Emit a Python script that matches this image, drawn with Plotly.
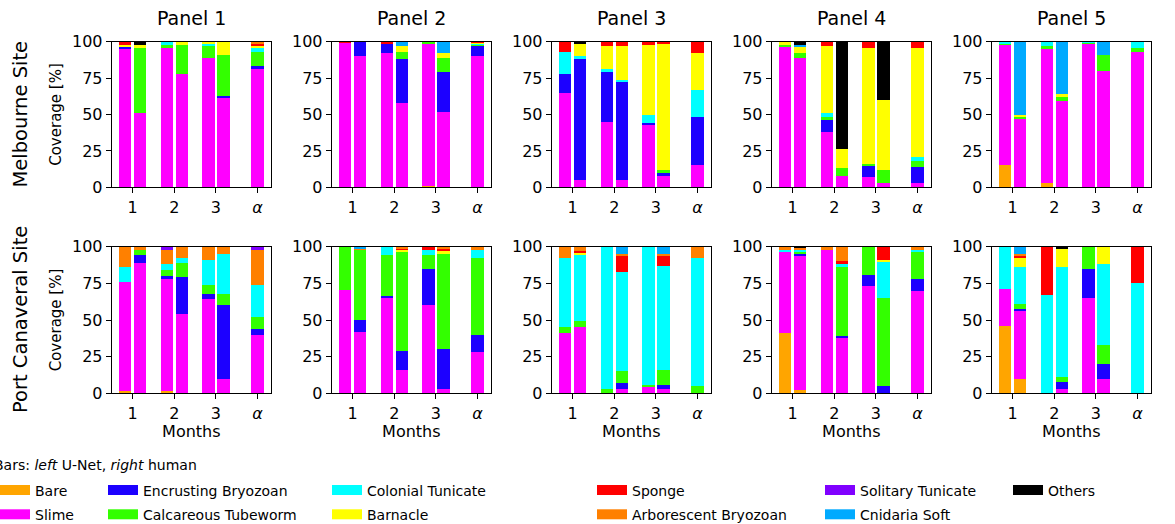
import plotly.graph_objects as go

# ---------------- data (percent coverage) ----------------
# each list: 10 panels (Melbourne 1-5, Port Canaveral 1-5) x 7 bars
# bars per panel: month1 U-Net, month1 human, month2 U-Net, month2 human,
#                 month3 U-Net, month3 human, alpha
CATEGORIES = ["Bare", "Slime", "Encrusting Bryozoan", "Calcareous Tubeworm",
              "Colonial Tunicate", "Barnacle", "Sponge", "Arborescent Bryozoan",
              "Solitary Tunicate", "Cnidaria Soft", "Others"]
SITES = ["Melbourne Site", "Port Canaveral Site"]
PANELS = ["Panel 1", "Panel 2", "Panel 3", "Panel 4", "Panel 5"]
TICK_LABELS = ["1", "2", "3", "<i>α</i>"]

BARE = [
    [0, 0, 0.5, 0, 0, 0, 0],
    [0, 0, 0, 0, 1, 0, 0.5],
    [0, 0, 0, 0, 0, 0, 0],
    [0, 0, 0, 0, 0, 0, 0],
    [15, 0, 3, 0, 0, 0, 0],
    [1.5, 0, 1.5, 0, 0, 0, 0],
    [0, 0, 0, 0, 0, 0, 0],
    [0, 0, 0, 0, 0, 0, 0],
    [41, 2, 0, 0, 0, 0, 0],
    [46, 10, 0, 0, 0, 0, 0],
]
SLIME = [
    [95, 51, 95, 78, 89, 62, 81],
    [99.5, 90, 92, 58, 98, 52, 89.5],
    [65, 5, 45, 5, 43, 8, 15],
    [97, 89, 38, 8, 7, 3, 3],
    [83, 47, 92, 59, 99, 80, 93],
    [74.5, 89, 76.5, 54, 64, 10, 40],
    [70.5, 42, 65, 16, 60, 3, 28],
    [41, 45, 0, 3, 4, 3, 0],
    [56, 92, 98, 38, 73, 0, 70],
    [25, 46, 0, 3, 65, 10, 0],
]
ENCRUSTING = [
    [2, 0, 0, 0, 0, 1, 2],
    [0, 10, 7, 30, 0, 27, 7],
    [13, 83, 35, 67, 1, 2, 33],
    [0, 0, 8, 0, 8, 0, 11],
    [0, 0, 0, 0, 0, 0, 0],
    [0, 5, 2, 25, 4, 50, 4],
    [0, 8, 1.5, 13, 25, 27, 12],
    [0, 0, 0, 4, 0, 3, 0],
    [0, 1, 0, 1, 8, 5, 8],
    [0, 1.5, 0, 5, 20, 10, 0],
]
CALCAREOUS = [
    [0, 45, 2.5, 20, 8, 28, 10],
    [0, 0, 0, 5, 1, 10, 1.5],
    [0, 0, 0, 0, 0, 2, 0],
    [1, 3, 2, 5, 1, 9, 4],
    [1, 2, 2, 3, 0.5, 11, 3],
    [0, 4, 4, 10, 6, 8, 8],
    [29.5, 48, 28, 68, 9, 65, 52],
    [4, 4, 3, 8, 1.5, 10, 5],
    [0, 2, 0, 47, 19, 60, 19],
    [0, 3.5, 0, 3, 15, 13, 0],
]
COLONIAL = [
    [0, 0, 2, 0, 2, 0, 3],
    [0, 0, 0, 0, 0, 0, 0.5],
    [15, 2, 1, 2, 6, 0, 19],
    [0, 0, 3, 0, 0, 0, 3],
    [1, 0, 3, 0, 0.5, 0, 4],
    [10, 0, 4, 3, 17, 27, 22],
    [0, 0, 5.5, 0, 4, 0, 6],
    [47, 45, 97, 68, 94.5, 71, 87],
    [1, 1, 0, 2, 0, 25, 1],
    [29, 25, 67, 75, 0, 55, 75],
]
BARNACLE = [
    [1, 1.5, 0, 2, 1, 9, 1.5],
    [0, 0, 0, 4, 0, 3, 0.5],
    [0, 9, 16, 23, 48, 87, 25],
    [2, 5, 46, 13, 80, 48, 75],
    [0, 1, 0, 2, 0, 0, 0],
    [0, 0, 0, 0, 0, 0, 0],
    [0, 0, 0, 1, 0, 2, 0],
    [0, 2, 0, 0, 0, 0, 0],
    [0, 0, 0, 0, 0, 1, 0],
    [0, 7, 0, 13, 0, 12, 0],
]
SPONGE = [
    [2, 0, 0, 0, 0, 0, 1],
    [0.5, 0, 1, 0, 0, 0, 0.5],
    [7, 0, 3, 3, 2, 1, 8],
    [0, 0, 3, 0, 4, 0, 4],
    [0, 0, 0, 0, 0, 0, 0],
    [0, 0, 0, 0, 0, 0, 0],
    [0, 0, 0, 1, 2, 2, 0],
    [0, 1, 0, 11, 0, 7, 0],
    [0, 0, 0, 2, 0, 9, 0],
    [0, 1, 33, 0, 0, 0, 25],
]
ARBORESCENT = [
    [0, 0, 0, 0, 0, 0, 1.5],
    [0, 0, 0, 0, 0, 0, 0],
    [0, 0, 0, 0, 0, 0, 0],
    [0, 0, 0, 0, 0, 0, 0],
    [0, 0, 0, 0, 0, 0, 0],
    [14, 2, 10, 8, 9, 5, 24],
    [0, 1, 0, 1, 0, 1, 2],
    [8, 3, 0, 1, 0, 1, 8],
    [2, 1.5, 2, 10, 0, 0, 2],
    [0, 1, 0, 0, 0, 0, 0],
]
SOLITARY = [
    [0, 0, 0, 0, 0, 0, 0],
    [0, 0, 0, 0, 0, 0, 0],
    [0, 0, 0, 0, 0, 0, 0],
    [0, 0, 0, 0, 0, 0, 0],
    [0, 0, 0, 0, 0, 0, 0],
    [0, 0, 2, 0, 0, 0, 2],
    [0, 0, 0, 0, 0, 0, 0],
    [0, 0, 0, 0, 0, 0, 0],
    [0, 0, 0, 0, 0, 0, 0],
    [0, 0, 0, 0, 0, 0, 0],
]
CNIDARIA = [
    [0, 0, 0, 0, 0, 0, 0],
    [0, 0, 0, 3, 0, 8, 0],
    [0, 0, 0, 0, 0, 0, 0],
    [0, 1, 0, 0, 0, 0, 0],
    [0, 50, 0, 36, 0, 9, 0],
    [0, 0, 0, 0, 0, 0, 0],
    [0, 1, 0, 0, 0, 0, 0],
    [0, 0, 0, 5, 0, 5, 0],
    [0, 0, 0, 0, 0, 0, 0],
    [0, 5, 0, 0, 0, 0, 0],
]
OTHERS = [
    [0, 2.5, 0, 0, 0, 0, 0],
    [0, 0, 0, 0, 0, 0, 0],
    [0, 1, 0, 0, 0, 0, 0],
    [0, 2, 0, 74, 0, 40, 0],
    [0, 0, 0, 0, 0, 0, 0],
    [0, 0, 0, 0, 0, 0, 0],
    [0, 0, 0, 0, 0, 0, 0],
    [0, 0, 0, 0, 0, 0, 0],
    [0, 0.5, 0, 0, 0, 0, 0],
    [0, 0, 0, 1, 0, 0, 0],
]

SERIES = [BARE, SLIME, ENCRUSTING, CALCAREOUS, COLONIAL, BARNACLE, SPONGE,
          ARBORESCENT, SOLITARY, CNIDARIA, OTHERS]
COLORS = ["#ffa500", "#ff00ff", "#1c00ff", "#33ff00", "#00ffff", "#ffff00",
          "#ff0000", "#ff8000", "#8000ff", "#00aaff", "#000000"]

# ---------------- layout geometry (pixels) ----------------
W, H = 1175, 524
PANEL_LEFT = [111.7, 331.7, 551.7, 771.7, 991.7]
PANEL_W = 159.3
ROW_TOP = [41.7, 246.7]
ROW_BOT = [187.3, 393.3]
FONT = "DejaVu Sans"

# bar x positions: two bars (U-Net left, human right) per month, single bar at alpha
OFF = 0.18
BAR_X = []
for m in (1, 2, 3):
    BAR_X += [m - OFF, m + OFF]
BAR_X.append(4)

LEGEND_COL = [1, 1, 2, 2, 3, 3, 4, 4, 5, 5, 6]

fig = go.Figure()
for p in range(10):
    ax = "" if p == 0 else str(p + 1)
    for ci, cat in enumerate(CATEGORIES):
        fig.add_trace(go.Bar(
            x=BAR_X, y=SERIES[ci][p], width=0.3, name=cat,
            marker=dict(color=COLORS[ci], line=dict(width=0)),
            xaxis="x" + ax, yaxis="y" + ax, legendgroup=cat,
            showlegend=False,
        ))

# legend entries (wide rectangular swatches like the reference)
for ci, cat in enumerate(CATEGORIES):
    lg = "legend" if LEGEND_COL[ci] == 1 else f"legend{LEGEND_COL[ci]}"
    fig.add_trace(go.Scatter(
        x=[None], y=[None], mode="lines", name=cat,
        line=dict(color=COLORS[ci], width=10),
        legendgroup=cat, showlegend=True, legend=lg, hoverinfo="skip",
    ))

layout = dict(
    width=W, height=H, barmode="stack",
    margin=dict(l=0, r=0, t=0, b=0, autoexpand=False),
    plot_bgcolor="white", paper_bgcolor="white",
    font=dict(family=FONT, color="black", size=16),
)
axis_common = dict(showline=True, linecolor="black", linewidth=1, mirror=True,
                   ticks="outside", ticklen=5, tickwidth=1, tickcolor="black",
                   showgrid=False, zeroline=False, tickfont=dict(size=16))
for p in range(10):
    r, c = divmod(p, 5)
    n = "" if p == 0 else str(p + 1)
    xd = [PANEL_LEFT[c] / W, (PANEL_LEFT[c] + PANEL_W) / W]
    yd = [1 - ROW_BOT[r] / H, 1 - ROW_TOP[r] / H]
    xa = dict(axis_common, domain=xd, anchor="y" + n, range=[0.496, 4.324],
              tickmode="array", tickvals=[1, 2, 3, 4], ticktext=TICK_LABELS)
    if r == 1:
        xa["title"] = dict(text="Months", font=dict(size=16), standoff=4)
    ya = dict(axis_common, domain=yd, anchor="x" + n, range=[0, 100],
              tickmode="array", tickvals=[0, 25, 50, 75, 100])
    if c == 0:
        ya["title"] = dict(text="Coverage [%]", font=dict(size=15), standoff=6)
    layout["xaxis" + n] = xa
    layout["yaxis" + n] = ya

# legends: six columns, two entries each
LEG_TEXT_X = [35, 143, 367, 632, 860, 1048]
for k, tx in enumerate(LEG_TEXT_X):
    key = "legend" if k == 0 else f"legend{k + 1}"
    layout[key] = dict(x=(tx - 40) / W, y=1 - 474.5 / H, xanchor="left", yanchor="top",
                       orientation="v", traceorder="grouped",
                       bgcolor="rgba(0,0,0,0)", borderwidth=0,
                       font=dict(size=14, family=FONT), tracegroupgap=3)

fig.update_layout(**layout)

ann = []
for c, t in enumerate(PANELS):
    ann.append(dict(text=t, x=(PANEL_LEFT[c] + PANEL_W / 2) / W, y=1 - 18 / H,
                    xref="paper", yref="paper", showarrow=False,
                    font=dict(size=19), xanchor="center", yanchor="middle"))
for r, s in enumerate(SITES):
    ann.append(dict(text=s, x=20 / W, y=1 - (ROW_TOP[r] + ROW_BOT[r]) / 2 / H,
                    xref="paper", yref="paper", showarrow=False, textangle=-90,
                    font=dict(size=19.5), xanchor="center", yanchor="middle"))
ann.append(dict(text="Bars: <i>left</i> U-Net, <i>right</i> human", x=-8 / W, y=1 - 465 / H,
                xref="paper", yref="paper", showarrow=False,
                font=dict(size=14), xanchor="left", yanchor="middle"))
fig.update_layout(annotations=ann)

fig.write_html("out.html", config={"displayModeBar": False},
               post_script="document.body.style.margin='0';document.body.style.overflow='hidden';")
